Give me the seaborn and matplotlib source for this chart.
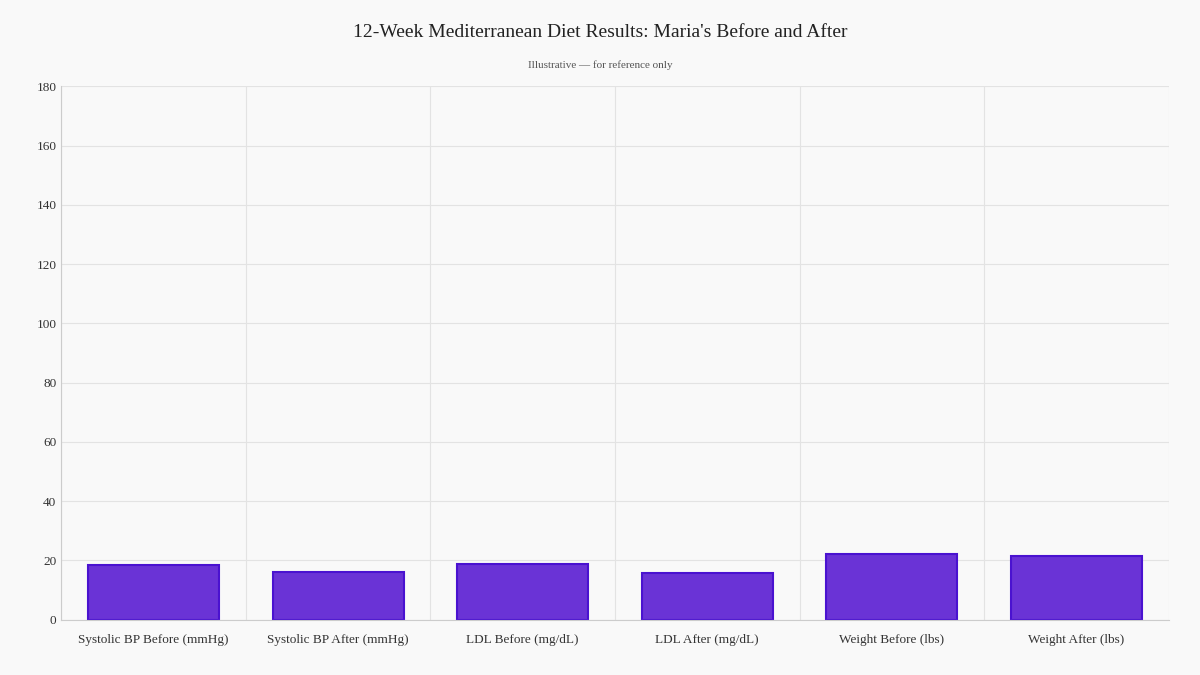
import pandas as pd
import seaborn as sns
import matplotlib.pyplot as plt

categories = ["Systolic BP Before (mmHg)", "Systolic BP After (mmHg)", "LDL Before (mg/dL)",
              "LDL After (mg/dL)", "Weight Before (lbs)", "Weight After (lbs)"]
values = [18.3, 16.1, 18.8, 15.6, 22.3, 21.5]

df = pd.DataFrame({"metric": categories, "value": values})

sns.set_style("whitegrid")
plt.rcParams["font.family"] = ["Liberation Serif", "DejaVu Serif"]

fig = plt.figure(figsize=(12, 6.75), dpi=100, facecolor="#f9f9f9")
ax = fig.add_axes([0.051, 0.082, 0.923, 0.79])
ax.set_facecolor("#f9f9f9")

sns.barplot(data=df, x="metric", y="value", ax=ax, color="#6a33d6", saturation=1,
            edgecolor="#4a12d0", linewidth=1.5, width=0.71)

ax.set_xlim(-0.5, 5.5)
ax.set_ylim(0, 180)
ax.set_yticks(range(0, 181, 20))
ax.set_xticks([i + 0.5 for i in range(-1, 6)], minor=True)
ax.grid(False)
ax.grid(True, axis="y", color="#e3e3e3", linewidth=0.8)
ax.grid(True, axis="x", which="minor", color="#e3e3e3", linewidth=0.8)
ax.set_axisbelow(True)
ax.tick_params(axis="x", which="major", length=0, labelsize=9.5, colors="#333333", pad=10)
ax.tick_params(axis="x", which="minor", length=8, color="#dddddd")
ax.tick_params(axis="y", length=0, labelsize=9.5, colors="#333333")
ax.set_xlabel("")
ax.set_ylabel("")
for s in ["top", "right"]:
    ax.spines[s].set_visible(False)
for s in ["left", "bottom"]:
    ax.spines[s].set_color("#cccccc")

fig.text(0.5, 0.945, "12-Week Mediterranean Diet Results: Maria's Before and After",
         ha="center", fontsize=14, color="#222222")
fig.text(0.5, 0.9, "Illustrative — for reference only", ha="center", fontsize=8, color="#555555")

fig.savefig("out.png", facecolor=fig.get_facecolor())
